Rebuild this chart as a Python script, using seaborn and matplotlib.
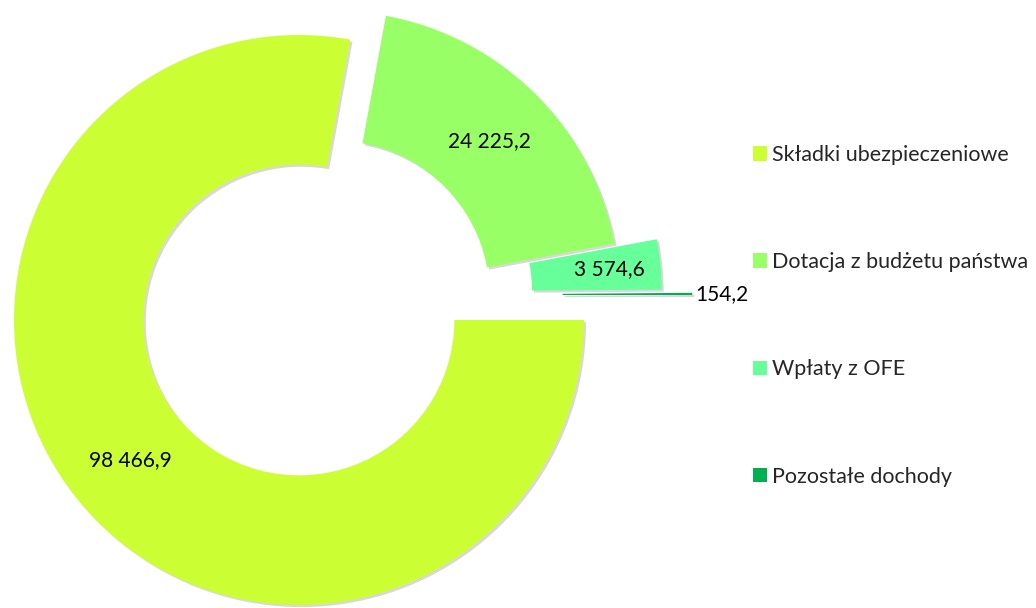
import numpy as np
import seaborn as sns
import matplotlib.pyplot as plt
import matplotlib.patheffects as pe

sns.set_style("white")
plt.rcParams["font.family"] = ["Lato", "DejaVu Sans"]

# Data
categories = [
    "Składki ubezpieczeniowe",
    "Dotacja z budżetu państwa",
    "Wpłaty z OFE",
    "Pozostałe dochody",
]
values = [98466.9, 24225.2, 3574.6, 154.2]
value_labels = ["98 466,9", "24 225,2", "3 574,6", "154,2"]

# Style
colors = ["#CCFF33", "#99FF66", "#66FF99", "#00B050"]
explode = [0.0, 0.15, 0.29, 0.39]
explode_dir = [0, 34, 20, 13]  # degrees, direction the slice is pulled out
label_r = [0.77, 0.77, 0.82, 1.01]

fig = plt.figure(figsize=(10.36, 6.08), dpi=100)
ax = fig.add_axes([0, 0, 1, 1])

wedges, _ = ax.pie(
    values,
    colors=colors,
    startangle=0,
    counterclock=False,
    radius=1.0,
    wedgeprops=dict(width=0.455, linewidth=0),
)

for i, w in enumerate(wedges):
    a = np.deg2rad(explode_dir[i])
    w.set_center((explode[i] * np.cos(a), explode[i] * np.sin(a)))
    w.set_path_effects([
        pe.SimplePatchShadow(offset=(1.5, -1.5), shadow_rgbFace="#808080", alpha=0.3),
        pe.Normal(),
    ])

# value labels in the middle of the ring, last one outside
for i, w in enumerate(wedges):
    cx, cy = w.center
    mid = np.deg2rad((w.theta1 + w.theta2) / 2)
    x = cx + label_r[i] * np.cos(mid)
    y = cy + label_r[i] * np.sin(mid)
    ha = "center" if i < 3 else "left"
    ax.text(x, y, value_labels[i], ha=ha, va="center", fontsize=15, color="black")

ax.set_xlim(-299 / 285, (1036 - 299) / 285)
ax.set_ylim(-288 / 285, (608 - 288) / 285)
ax.set_aspect("equal")
ax.axis("off")

leg = ax.legend(
    wedges, categories,
    loc="upper left",
    bbox_to_anchor=(0.727, 0.7615),
    bbox_transform=fig.transFigure,
    frameon=False,
    fontsize=15.5,
    handlelength=0.65,
    handleheight=0.65,
    handletextpad=0.23,
    labelspacing=4.05,
    borderpad=0,
    borderaxespad=0,
)
for h in leg.legend_handles:
    h.set_path_effects([])

fig.savefig("out.png", dpi=100)
